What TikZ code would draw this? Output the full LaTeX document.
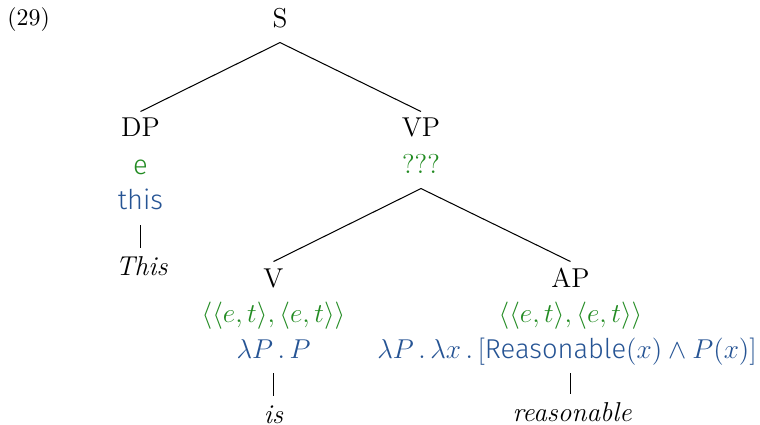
\documentclass[tikz,border=0pt]{standalone}
\usepackage{fontspec}
\newfontfamily\sansf[UprightFont={* Light}]{Fira Sans}
\definecolor{semgreen}{RGB}{34,139,34}
\definecolor{semblue}{RGB}{38,84,148}
\begin{document}
\begin{tikzpicture}[x=0.44pt,y=-0.44pt,
  every node/.style={inner sep=0pt,anchor=base,font=\fontsize{12}{14}\selectfont},
  cat/.style={text height=11pt,text depth=6.2pt},
  typ/.style={text=semgreen,text height=11pt,text depth=6.2pt},
  sem/.style={text=semblue,text height=11pt,text depth=6.6pt},
  leaf/.style={text height=11.8pt,text depth=2pt},
  edge/.style={draw=black,line width=0.45pt}]
\useasboundingbox (0,0) rectangle (760,425);
\node[anchor=base west,font=\fontsize{10.5}{12}\selectfont] (num) at (7,26) {(29)};
% S
\node[cat] (S) at (280,28) {S};
% DP
\node[cat] (DP) at (140.5,137) {DP};
\node[typ] (DPt) at (140.5,175) {\sansf e};
\node[sem] (DPs) at (140.5,210) {\sansf this};
\node[leaf] (DPl) at (141.5,275) {\itshape This};
% VP
\node[cat] (VP) at (421,137) {VP};
\node[typ] (VPt) at (421,174) {???};
% V
\node[cat] (V) at (273.5,287) {V};
\node[typ] (Vt) at (273.5,322) {$\langle\langle e,t\rangle,\langle e,t\rangle\rangle$};
\node[sem] (Vs) at (273.5,358) {$\lambda P\,.\,P$};
\node[leaf] (Vl) at (273.5,423) {\itshape is};
% AP
\node[cat] (AP) at (570.5,287) {AP};
\node[typ] (APt) at (570.5,322) {$\langle\langle e,t\rangle,\langle e,t\rangle\rangle$};
\node[sem] (APs) at (567,358) {$\lambda P\,.\,\lambda x\,.\,[\mbox{\sansf Reasonable}(x)\wedge P(x)]$};
\node[leaf] (APl) at (572,421) {\itshape reasonable};
% edges
\draw[edge] (S.south) -- (DP.north);
\draw[edge] (S.south) -- (VP.north);
\draw[edge] (VPt.south) -- (V.north);
\draw[edge] (VPt.south) -- (AP.north);
\draw[edge] (DPs.south) -- (DPs.south |- DPl.north);
\draw[edge] (Vs.south) -- (Vs.south |- Vl.north);
\draw[edge] (AP.center |- APs.south) -- (AP.center |- APl.north);
\end{tikzpicture}
\end{document}
